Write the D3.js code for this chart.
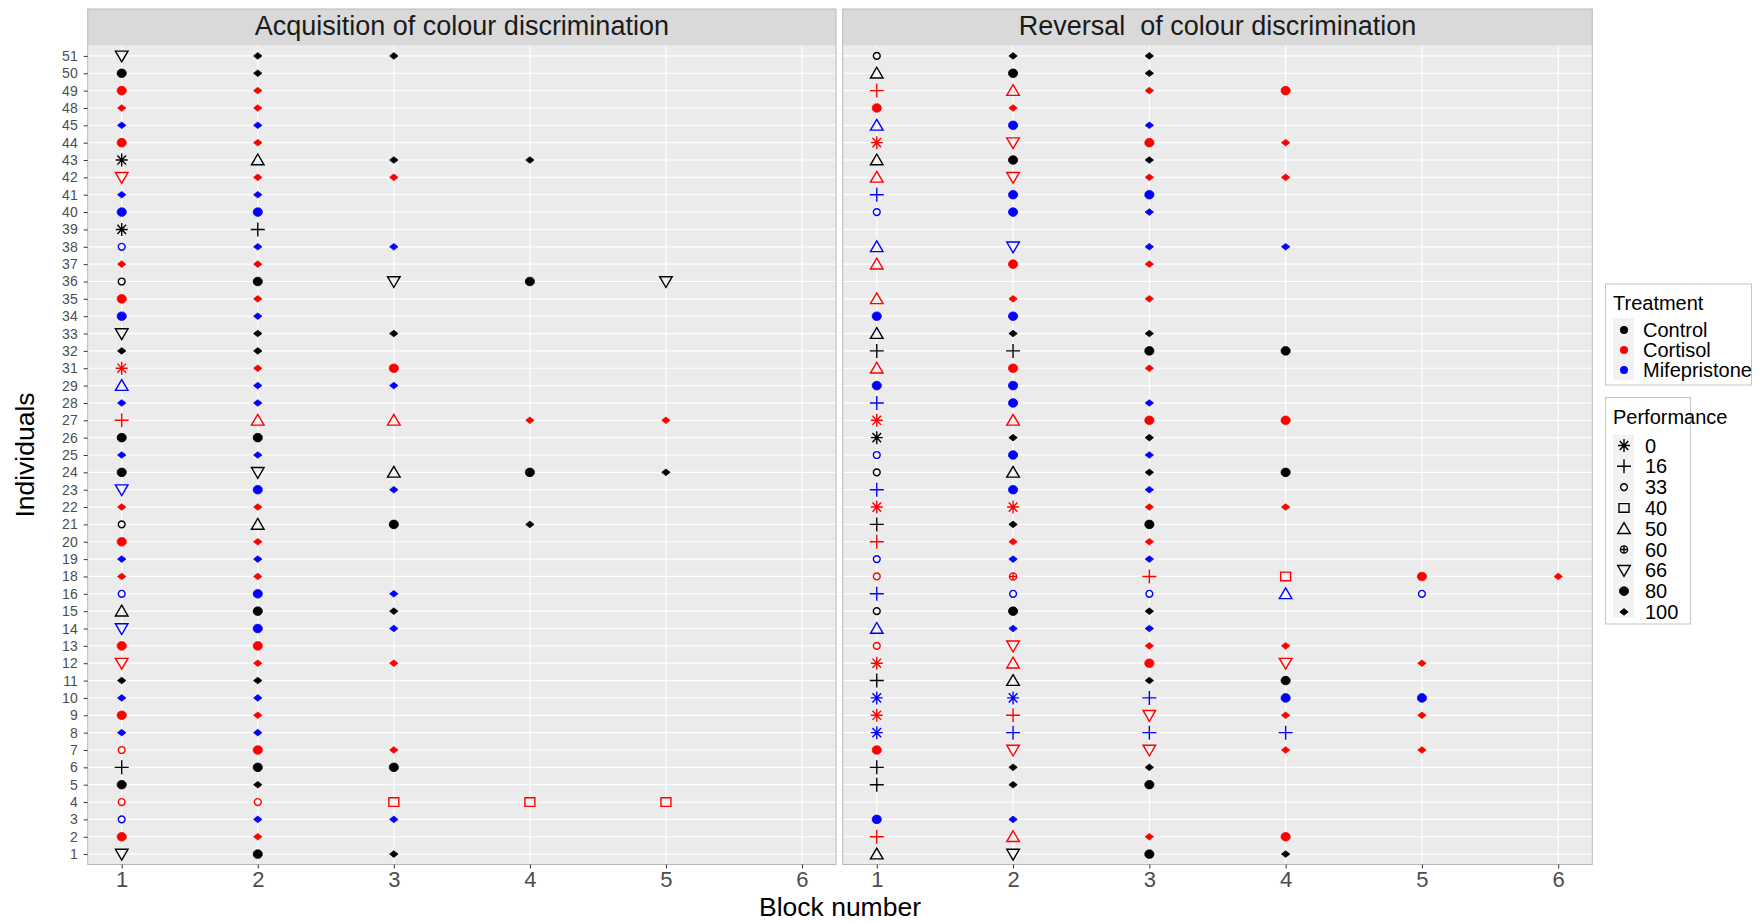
<!DOCTYPE html>
<html>
<head>
<meta charset="utf-8">
<script src="https://cdn.jsdelivr.net/npm/d3@7"></script>
<style>
  body { margin: 0; background: #fff; }
  svg { display: block; font-family: "Liberation Sans", Arial, sans-serif; }
  text { white-space: pre; }
</style>
</head>
<body>
<script>
// individuals, top to bottom as in the figure (17, 30, 46, 47 absent)
var individuals = [51, 50, 49, 48, 45, 44, 43, 42, 41, 40, 39, 38, 37, 36, 35, 34, 33, 32, 31, 29, 28, 27, 26, 25,
                   24, 23, 22, 21, 20, 19, 18, 16, 15, 14, 13, 12, 11, 10, 9, 8, 7, 6, 5, 4, 3, 2, 1];

var treatment = ['Control', 'Control', 'Cortisol', 'Cortisol', 'Mifepristone', 'Cortisol', 'Control', 'Cortisol',
                 'Mifepristone', 'Mifepristone', 'Control', 'Mifepristone', 'Cortisol', 'Control', 'Cortisol',
                 'Mifepristone', 'Control', 'Control', 'Cortisol', 'Mifepristone', 'Mifepristone', 'Cortisol',
                 'Control', 'Mifepristone', 'Control', 'Mifepristone', 'Cortisol', 'Control', 'Cortisol',
                 'Mifepristone', 'Cortisol', 'Mifepristone', 'Control', 'Mifepristone', 'Cortisol', 'Cortisol',
                 'Control', 'Mifepristone', 'Cortisol', 'Mifepristone', 'Cortisol', 'Control', 'Control',
                 'Cortisol', 'Mifepristone', 'Cortisol', 'Control'];

// performance (%) reached in block 1, 2, 3 ... for each individual
var acquisition = [
    [66, 100, 100], [80, 100], [80, 100], [100, 100], [100, 100], [80, 100], [0, 50, 100, 100], [66, 100, 100],
    [100, 100], [80, 80], [0, 16], [33, 100, 100], [100, 100], [33, 80, 66, 80, 66], [80, 100], [80, 100],
    [66, 100, 100], [100, 100], [0, 100, 80], [50, 100, 100], [100, 100], [16, 50, 50, 100, 100], [80, 80],
    [100, 100], [80, 66, 50, 80, 100], [66, 80, 100], [100, 100], [33, 50, 80, 100], [80, 100], [100, 100],
    [100, 100], [33, 80, 100], [50, 80, 100], [66, 80, 100], [80, 80], [66, 100, 100], [100, 100], [100, 100],
    [80, 100], [100, 100], [33, 80, 100], [16, 80, 80], [80, 100], [33, 33, 40, 40, 40], [33, 100, 100],
    [80, 100], [66, 80, 100]
];

var reversal = [
    [33, 100, 100], [50, 80, 100], [16, 50, 100, 80], [80, 100], [50, 80, 100], [0, 66, 80, 100], [50, 80, 100],
    [50, 66, 100, 100], [16, 80, 80], [33, 80, 100], [], [50, 66, 100, 100], [50, 80, 100], [], [50, 100, 100],
    [80, 80], [50, 100, 100], [16, 16, 80, 80], [50, 80, 100], [80, 80], [16, 80, 100], [0, 50, 80, 80],
    [0, 100, 100], [33, 80, 100], [33, 50, 100, 80], [16, 80, 100], [0, 0, 100, 100], [16, 100, 80],
    [16, 100, 100], [33, 100, 100], [33, 60, 16, 40, 80, 100], [16, 33, 33, 50, 33], [33, 80, 100],
    [50, 100, 100], [33, 66, 100, 100], [0, 50, 80, 66, 100], [16, 50, 100, 80], [0, 0, 16, 80, 80],
    [0, 16, 66, 100, 100], [0, 16, 16, 16], [80, 66, 66, 100, 100], [16, 100, 100], [16, 100, 80], [],
    [80, 100], [16, 50, 100, 80], [50, 66, 80, 100]
];

var panelTitles = ['Acquisition of colour discrimination', 'Reversal  of colour discrimination'];
var blockTicks = [1, 2, 3, 4, 5, 6];
var treatmentLevels = ['Control', 'Cortisol', 'Mifepristone'];
var treatmentColours = ['#000000', '#ff0000', '#0000ff'];
var performanceLevels = [0, 16, 33, 40, 50, 60, 66, 80, 100];

var width = 1762;
var height = 923;
var stripTop = 9;
var panelTop = 45.5;
var panelBottom = 864.5;
var panelX = [[87.7, 836], [842.7, 1592.3]];

var colour = d3.scaleOrdinal().domain(treatmentLevels).range(treatmentColours);

function circle(r) {
    return `M${-r},0A${r},${r} 0 1,0 ${r},0A${r},${r} 0 1,0 ${-r},0Z`;
}

// ggplot-like point shapes per performance level
var shapes = {
    0: { d: 'M-6,0H6M0,-6.5V6.5M-4.3,-4.6L4.3,4.6M-4.3,4.6L4.3,-4.6', filled: false },
    16: { d: 'M-7,0H7M0,-7V7', filled: false },
    33: { d: circle(3.4), filled: false },
    40: { d: 'M-5,-4.3H5V4.3H-5Z', filled: false },
    50: { d: 'M0,-6L6.3,4.8H-6.3Z', filled: false },
    60: { d: circle(3.6) + 'M-3.6,0H3.6M0,-3.6V3.6', filled: false },
    66: { d: 'M0,6L6.3,-4.8H-6.3Z', filled: false },
    80: { d: 'M-4.6,0A4.6,4.3 0 1,0 4.6,0A4.6,4.3 0 1,0 -4.6,0Z', filled: true },
    100: { d: 'M-4.2,0L0,-3.3L4.2,0L0,3.3Z', filled: true }
};

function drawShape(sel, level, col) {
    var s = shapes[level];
    sel.append('path')
        .attr('d', s.d)
        .attr('fill', s.filled ? col : 'none')
        .attr('stroke', col)
        .attr('stroke-width', s.filled ? 0.8 : 1.4)
        .attr('stroke-linejoin', 'miter');
}

var svg = d3.select('body').append('svg')
    .attr('width', width)
    .attr('height', height);

var y = d3.scalePoint()
    .domain(individuals)
    .range([panelTop, panelBottom])
    .padding(0.6);

[acquisition, reversal].forEach(function (blocks, p) {
    var x = d3.scaleLinear()
        .domain([0.75, 6.25])
        .range(panelX[p]);
    var x0 = panelX[p][0], x1 = panelX[p][1];
    var g = svg.append('g');

    g.append('rect')
        .attr('x', x0).attr('y', panelTop)
        .attr('width', x1 - x0).attr('height', panelBottom - panelTop)
        .attr('fill', '#ebebeb');

    g.selectAll('.hgrid')
        .data(individuals)
        .enter().append('line')
        .attr('x1', x0).attr('x2', x1 + 2.5)
        .attr('y1', d => y(d)).attr('y2', d => y(d))
        .attr('stroke', '#fff').attr('stroke-width', 1.2);

    g.selectAll('.vgrid')
        .data(blockTicks)
        .enter().append('line')
        .attr('x1', d => x(d)).attr('x2', d => x(d))
        .attr('y1', panelTop).attr('y2', panelBottom)
        .attr('stroke', '#fff').attr('stroke-width', 1.2);

    // strip
    g.append('rect')
        .attr('x', x0).attr('y', stripTop)
        .attr('width', x1 - x0).attr('height', panelTop - stripTop)
        .attr('fill', '#d9d9d9');
    g.append('text')
        .attr('x', (x0 + x1) / 2).attr('y', (stripTop + panelTop) / 2 - 1)
        .attr('text-anchor', 'middle')
        .attr('dominant-baseline', 'central')
        .attr('font-size', 27)
        .attr('fill', '#1a1a1a')
        .text(panelTitles[p]);

    g.append('rect')
        .attr('x', x0).attr('y', stripTop)
        .attr('width', x1 - x0).attr('height', panelBottom - stripTop)
        .attr('fill', 'none')
        .attr('stroke', '#b8b8b8').attr('stroke-width', 1);

    // points
    var pts = [];
    individuals.forEach(function (id, i) {
        blocks[i].forEach(function (level, b) {
            pts.push({ id: id, block: b + 1, level: level, treatment: treatment[i] });
        });
    });
    g.selectAll('.pt')
        .data(pts)
        .enter().append('g')
        .attr('transform', d => `translate(${x(d.block)},${y(d.id)})`)
        .each(function (d) { drawShape(d3.select(this), d.level, colour(d.treatment)); });

    // x axis
    var ax = g.append('g')
        .attr('transform', `translate(0,${panelBottom})`)
        .call(d3.axisBottom(x).tickValues(blockTicks).tickSize(4).tickPadding(3).tickFormat(d3.format('d')));
    ax.select('.domain').remove();
    ax.selectAll('line').attr('stroke', '#333');
    ax.selectAll('text')
        .attr('font-size', 22)
        .attr('font-family', '"Liberation Sans", Arial, sans-serif')
        .attr('fill', '#4d4d4d');

    if (p === 0) {
        var ay = g.append('g')
            .attr('transform', `translate(${x0},0)`)
            .call(d3.axisLeft(y).tickSize(4).tickPadding(6));
        ay.select('.domain').remove();
        ay.selectAll('line').attr('stroke', '#333');
        ay.selectAll('text')
            .attr('font-size', 14)
            .attr('font-family', '"Liberation Sans", Arial, sans-serif')
            .attr('fill', '#4d4d4d');
    }
});

// axis titles
svg.append('text')
    .attr('x', (panelX[0][0] + panelX[1][1]) / 2).attr('y', 907)
    .attr('text-anchor', 'middle').attr('dominant-baseline', 'central')
    .attr('font-size', 26.5)
    .text('Block number');

svg.append('text')
    .attr('transform', `translate(25,${(panelTop + panelBottom) / 2}) rotate(-90)`)
    .attr('text-anchor', 'middle').attr('dominant-baseline', 'central')
    .attr('font-size', 26.5)
    .text('Individuals');

// legends
var lg1 = svg.append('g').attr('transform', 'translate(1605.5,284)');
lg1.append('rect').attr('width', 146).attr('height', 101)
    .attr('fill', '#fff').attr('stroke', '#c4c4c4');
lg1.append('text').attr('x', 7.5).attr('y', 26).attr('font-size', 20).text('Treatment');
lg1.append('rect').attr('x', 7.5).attr('y', 34).attr('width', 21).attr('height', 62).attr('fill', '#f2f2f2');
treatmentLevels.forEach(function (t, i) {
    lg1.append('circle')
        .attr('cx', 18.5).attr('cy', 46 + i * 20).attr('r', 4)
        .attr('fill', colour(t));
    lg1.append('text')
        .attr('x', 37.5).attr('y', 46 + i * 20)
        .attr('dominant-baseline', 'central')
        .attr('font-size', 20)
        .text(t);
});

var lg2 = svg.append('g').attr('transform', 'translate(1605.5,397.5)');
lg2.append('rect').attr('width', 85).attr('height', 226.5)
    .attr('fill', '#fff').attr('stroke', '#c4c4c4');
lg2.append('text').attr('x', 7.5).attr('y', 26).attr('font-size', 20).text('Performance');
lg2.append('rect').attr('x', 7.5).attr('y', 37).attr('width', 21).attr('height', 183).attr('fill', '#f2f2f2');
performanceLevels.forEach(function (lv, i) {
    var k = lg2.append('g').attr('transform', `translate(18.5,${48 + i * 20.8})`);
    drawShape(k, lv, '#000');
    lg2.append('text')
        .attr('x', 39.5).attr('y', 48 + i * 20.8)
        .attr('dominant-baseline', 'central')
        .attr('font-size', 20)
        .text(lv);
});
</script>
</body>
</html>
